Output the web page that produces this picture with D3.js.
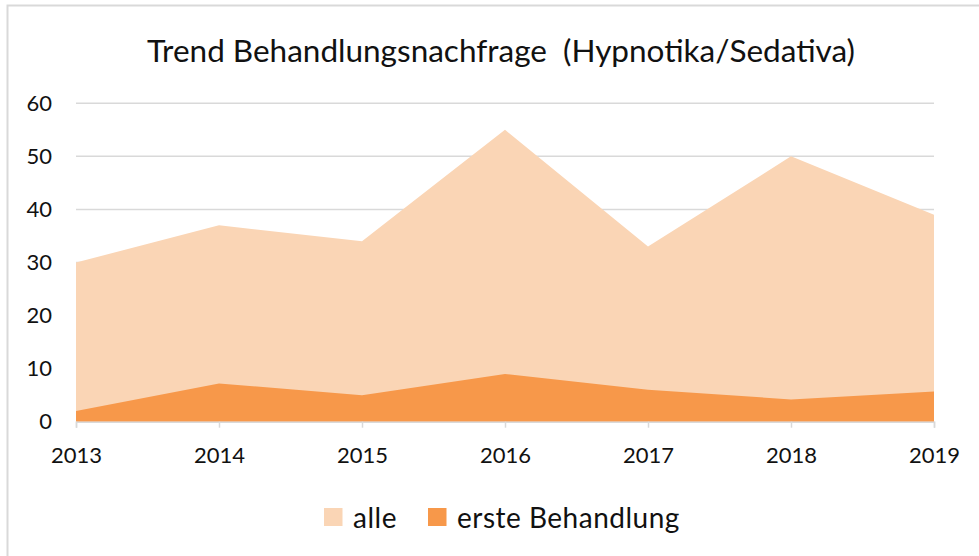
<!DOCTYPE html>
<html><head><meta charset="utf-8">
<script src="https://cdn.jsdelivr.net/npm/d3@7"></script>
<style>html,body{margin:0;padding:0;background:#fff;}svg{display:block;}</style>
</head><body>
<svg id="c" width="979" height="556"></svg>
<script>
const years = ["2013","2014","2015","2016","2017","2018","2019"];
const alle = [30, 37, 34, 55, 33, 50, 39];
const ersteBehandlung = [2, 7.2, 5, 9, 6, 4.2, 5.7];
const yTicks = [0, 10, 20, 30, 40, 50, 60];
const seriesNames = ["alle", "erste Behandlung"];
const title = "Trend Behandlungsnachfrage  (Hypnotika/Sedativa)";

const colors = ["#FAD5B5", "#F7984A"];
const font = "Lato, 'Open Sans', sans-serif";
const svg = d3.select("#c");

// chart border
svg.append("path").attr("d","M7.5,556 V5.5 H979").attr("fill","none").attr("stroke","#d9d9d9").attr("stroke-width",2);

const x = d3.scalePoint().domain(years).range([76, 934]);
const y = d3.scaleLinear().domain([0, 60]).range([421.7, 103.3]);

// gridlines
svg.append("g").selectAll("line").data(yTicks.filter(d=>d>0)).join("line")
  .attr("x1", 76).attr("x2", 934)
  .attr("y1", d=>y(d)).attr("y2", d=>y(d))
  .attr("stroke", "#d9d9d9").attr("stroke-width", 1.5);

const area = d3.area().x((d,i)=>x(years[i])).y0(y(0)).y1(d=>y(d));
svg.append("path").datum(alle).attr("d", area).attr("fill", colors[0]);
svg.append("path").datum(ersteBehandlung).attr("d", area).attr("fill", colors[1]);

// x axis
const xAxis = svg.append("g").attr("transform", `translate(0,${y(0)})`)
  .call(d3.axisBottom(x).tickSize(6).tickPadding(20));
xAxis.select(".domain").attr("stroke","#d9d9d9").attr("stroke-width",1.5);
xAxis.selectAll(".tick line").attr("stroke","#d9d9d9").attr("stroke-width",1.5);
xAxis.selectAll(".tick text").attr("font-family", font).attr("font-size", 22).attr("fill","#111");

// y axis
const yAxis = svg.append("g").attr("transform", "translate(76,0)")
  .call(d3.axisLeft(y).tickValues(yTicks).tickSize(0).tickPadding(24));
yAxis.select(".domain").remove();
yAxis.selectAll(".tick text").attr("font-family", font).attr("font-size", 22).attr("fill","#111");

// title
svg.append("text").attr("x", 501).attr("y", 62).attr("text-anchor","middle")
  .style("white-space","pre")
  .attr("font-family", font).attr("font-size", 31.5).attr("fill","#111").text(title);

// legend
const leg = svg.append("g");
const legX = [324, 428];
seriesNames.forEach((n,i)=>{
  leg.append("rect").attr("x", legX[i]).attr("y", 508).attr("width", 18.5).attr("height", 18).attr("fill", colors[i]);
  leg.append("text").attr("x", legX[i]+29).attr("y", 527.5).attr("font-family", font).attr("font-size", 28)
    .attr("letter-spacing", 0.5).attr("fill","#111").text(n);
});
</script>
</body></html>
